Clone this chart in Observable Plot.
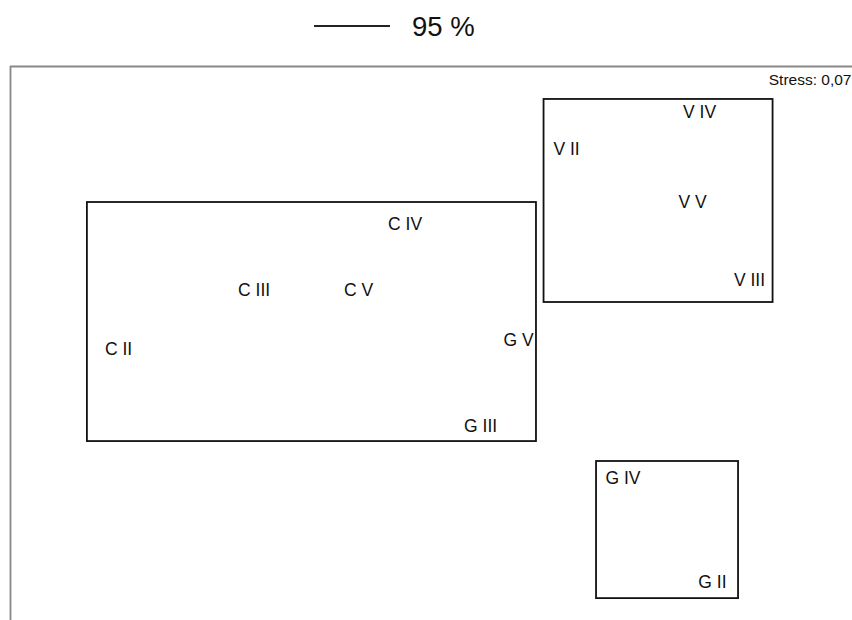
<!DOCTYPE html>
<html>
<head>
<meta charset="utf-8">
<script src="https://cdn.jsdelivr.net/npm/d3@7"></script>
<script src="https://cdn.jsdelivr.net/npm/@observablehq/plot@0.6"></script>
<style>
  html, body { margin: 0; padding: 0; background: #fff; }
  body { width: 852px; height: 620px; overflow: hidden; font-family: "Liberation Sans", Arial, sans-serif; }
  #legend { position: relative; height: 55px; }
  #legend .line { position: absolute; left: 314px; top: 25px; width: 76px; border-top: 2px solid #222; }
  #legend .txt { position: absolute; left: 412px; top: 13px; font-size: 27.5px; line-height: 27.5px; color: #111; }
</style>
</head>
<body>
<div id="legend"><div class="line"></div><div class="txt"></div></div>
<div id="chart"></div>
<script>
// NMDS sample coordinates
const labels = ["C IV", "C III", "C V", "C II", "G V", "G III", "V IV", "V II", "V V", "V III", "G IV", "G II"];
const xs     = [-0.094, -0.632, -0.260, -1.115, 0.310, 0.175, 0.955, 0.481, 0.930, 1.133, 0.682, 1.001];
const ys     = [0.430, 0.191, 0.191, -0.022, 0.011, -0.298, 0.834, 0.702, 0.509, 0.227, -0.487, -0.863];

// 95 % similarity cluster outlines
const clusterNames = ["C", "V", "G"];
const clusterX1 = [-1.226, 0.401, 0.588];
const clusterX2 = [0.374, 1.217, 1.094];
const clusterY1 = [-0.354, 0.148, -0.921];
const clusterY2 = [0.509, 0.881, -0.426];

const legendLabel = "95 %";
const stressLabel = "Stress: 0,07";

const points = labels.map((l, i) => ({label: l, x: xs[i], y: ys[i]}));
const clusters = clusterNames.map((c, i) => ({name: c, x1: clusterX1[i], x2: clusterX2[i], y1: clusterY1[i], y2: clusterY2[i]}));

document.querySelector("#legend .txt").textContent = legendLabel;

const chart = Plot.plot({
  width: 852,
  height: 565,
  marginLeft: 10,
  marginRight: 0,
  marginTop: 11,
  marginBottom: 0,
  style: {fontFamily: "'Liberation Sans', Arial, sans-serif", background: "white", overflow: "visible"},
  x: {domain: [-1.5, 1.5], axis: null},
  y: {domain: [-1, 1], axis: null},
  marks: [
    Plot.ruleX([-1.5], {stroke: "#888", strokeWidth: 1.8}),
    Plot.ruleY([1], {stroke: "#888", strokeWidth: 1.8}),
    Plot.rect(clusters, {x1: "x1", x2: "x2", y1: "y1", y2: "y2", fill: "none", stroke: "#111", strokeWidth: 1.8}),
    Plot.text(points, {x: "x", y: "y", text: "label", fontSize: 17.5, fill: "#111", textAnchor: "middle", lineAnchor: "middle"}),
    Plot.text([stressLabel], {frameAnchor: "top-right", textAnchor: "end", lineAnchor: "middle", dx: -1, dy: 13.5, fontSize: 15.5, fill: "#111"})
  ]
});
document.getElementById("chart").appendChild(chart);
</script>
</body>
</html>
